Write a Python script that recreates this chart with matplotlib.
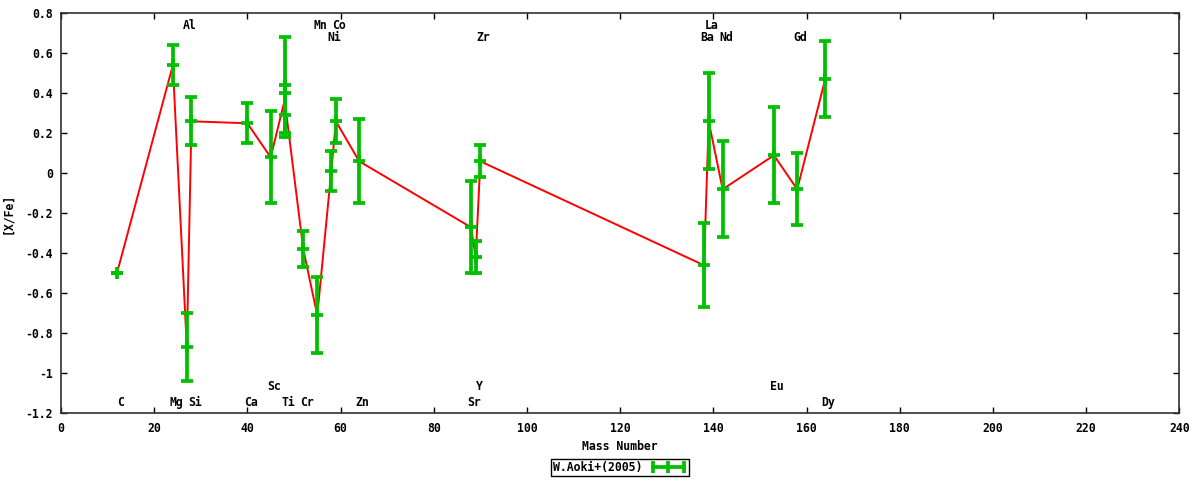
import numpy as np
import pandas as pd
import matplotlib
matplotlib.use("Agg")
import matplotlib.pyplot as plt
from matplotlib.lines import Line2D
from matplotlib.ticker import FuncFormatter

# W.Aoki+(2005) abundances
elem = ["C", "Mg", "Al", "Si", "Ca", "Sc", "Ti", "Ti", "Cr", "Mn", "Ni", "Co",
        "Zn", "Sr", "Y", "Zr", "Ba", "La", "Nd", "Eu", "Gd", "Dy"]
mass = [12, 24, 27, 28, 40, 45, 48, 48, 52, 55, 58, 59,
        64, 88, 89, 90, 138, 139, 142, 153, 158, 164]
xfe = [-0.50, 0.54, -0.87, 0.26, 0.25, 0.08, 0.44, 0.29, -0.38, -0.71, 0.01, 0.26,
       0.06, -0.27, -0.42, 0.06, -0.46, 0.26, -0.08, 0.09, -0.08, 0.47]
err = [0.00, 0.10, 0.17, 0.12, 0.10, 0.23, 0.24, 0.11, 0.09, 0.19, 0.10, 0.11,
       0.21, 0.23, 0.08, 0.08, 0.21, 0.24, 0.24, 0.24, 0.18, 0.19]

# element labels: which row they sit in (0,1 top; 2,3 bottom)
lab_elem = ["C", "Mg", "Al", "Si", "Ca", "Sc", "Ti", "Cr", "Mn", "Ni", "Co",
            "Zn", "Sr", "Y", "Zr", "Ba", "La", "Nd", "Eu", "Gd", "Dy"]
lab_mass = [12, 24, 27, 28, 40, 45, 48, 52, 55, 58, 59,
            64, 88, 89, 90, 138, 139, 142, 153, 158, 164]
lab_row = [3, 3, 0, 3, 3, 2, 3, 3, 0, 1, 0,
           3, 3, 2, 1, 1, 0, 1, 2, 1, 3]
row_y = [0.737, 0.677, -1.068, -1.148]

font = dict(family="DejaVu Sans Mono", weight="bold", size=8.3)
green = "#00c000"

df = pd.DataFrame({"mass": mass, "xfe": xfe, "err": err})
# red line: unique masses, duplicates averaged
uniq = df.groupby("mass", sort=True)["xfe"].mean()

fig = plt.figure(figsize=(12, 4.8), dpi=100)
ax = fig.add_axes([61 / 1200, 1 - 413.3 / 480, (1179.3 - 61) / 1200, (413.3 - 13.3) / 480])

ax.plot(uniq.index, uniq.values, color="red", lw=1.4, zorder=2)
ax.errorbar(df["mass"], df["xfe"], yerr=df["err"], fmt="+", color=green,
            ms=9, mew=2.7, elinewidth=2.7, capsize=4.6, capthick=2.7, zorder=3)

for e, m, r in zip(lab_elem, lab_mass, lab_row):
    ax.text(m + 0.7, row_y[r], e, ha="center", va="center", **font)

ax.set_xlim(0, 240)
ax.set_ylim(-1.2, 0.8)
ax.set_xticks(np.arange(0, 241, 20))
ax.set_yticks(np.arange(-1.2, 0.81, 0.2))
ax.yaxis.set_major_formatter(FuncFormatter(lambda v, p: "%g" % (round(v, 1) + 0.0)))
ax.tick_params(direction="in", length=4, width=1, top=True, right=True,
               colors="black", pad=6)
for lab in ax.get_xticklabels() + ax.get_yticklabels():
    lab.set_fontfamily(font["family"])
    lab.set_fontweight("bold")
    lab.set_fontsize(font["size"])
for s in ax.spines.values():
    s.set_color("#303030")
    s.set_linewidth(1.2)

ax.set_xlabel("Mass Number", labelpad=4, **font)
ax.set_ylabel("[X/Fe]", labelpad=8, **font)

handle = Line2D([], [], color=green, lw=2.7, marker="|", ms=8, mew=2.7)
leg = fig.legend([handle], ["W.Aoki+(2005)"], loc="center",
                 bbox_to_anchor=(620 / 1200, 1 - 467.5 / 480), numpoints=3,
                 markerfirst=False, fancybox=False, framealpha=1,
                 edgecolor="black", prop=dict(family="DejaVu Sans Mono", weight="bold", size=8.3),
                 borderpad=0.15, handlelength=3.3, handletextpad=0.6, borderaxespad=0)
leg.get_frame().set_linewidth(1.0)

fig.savefig("out.png", dpi=100)
